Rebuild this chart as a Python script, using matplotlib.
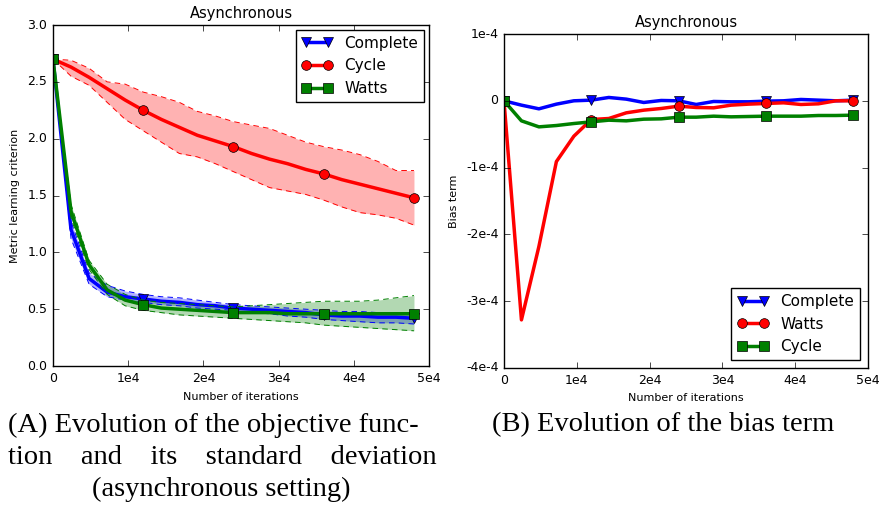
import numpy as np
import matplotlib
matplotlib.use("Agg")
import matplotlib.pyplot as plt

plt.style.use("classic")

# iterations, one sample every 2400
iters = [0, 2400, 4800, 7200, 9600, 12000, 14400, 16800, 19200, 21600, 24000,
         26400, 28800, 31200, 33600, 36000, 38400, 40800, 43200, 45600, 48000]

# (A) objective: mean and std band
complete_mean = [2.70, 1.20, 0.77, 0.65, 0.61, 0.59, 0.57, 0.56, 0.54, 0.53, 0.51,
                 0.50, 0.49, 0.48, 0.47, 0.45, 0.44, 0.44, 0.43, 0.43, 0.42]
complete_low = [2.70, 1.12, 0.72, 0.61, 0.58, 0.56, 0.54, 0.53, 0.51, 0.50, 0.49,
                0.47, 0.46, 0.44, 0.43, 0.41, 0.40, 0.39, 0.38, 0.38, 0.37]
complete_up = [2.70, 1.27, 0.82, 0.71, 0.66, 0.63, 0.61, 0.60, 0.58, 0.56, 0.54,
               0.53, 0.52, 0.51, 0.50, 0.49, 0.48, 0.48, 0.47, 0.47, 0.46]

cycle_mean = [2.70, 2.63, 2.54, 2.44, 2.34, 2.25, 2.17, 2.10, 2.03, 1.98, 1.93,
              1.87, 1.82, 1.78, 1.73, 1.69, 1.64, 1.60, 1.56, 1.52, 1.48]
cycle_low = [2.70, 2.55, 2.47, 2.32, 2.17, 2.07, 1.97, 1.87, 1.84, 1.78, 1.71,
             1.64, 1.57, 1.54, 1.51, 1.46, 1.40, 1.35, 1.33, 1.30, 1.24]
cycle_up = [2.70, 2.69, 2.62, 2.50, 2.48, 2.41, 2.37, 2.32, 2.24, 2.20, 2.15,
            2.12, 2.09, 2.03, 1.97, 1.93, 1.90, 1.86, 1.80, 1.72, 1.72]

watts_mean = [2.70, 1.36, 0.89, 0.67, 0.58, 0.54, 0.51, 0.50, 0.49, 0.48, 0.47,
              0.47, 0.47, 0.46, 0.46, 0.46, 0.46, 0.46, 0.46, 0.46, 0.46]
watts_low = [2.70, 1.30, 0.85, 0.63, 0.53, 0.49, 0.47, 0.45, 0.44, 0.43, 0.42,
             0.41, 0.40, 0.39, 0.38, 0.36, 0.35, 0.34, 0.33, 0.32, 0.31]
watts_up = [2.70, 1.42, 0.93, 0.72, 0.63, 0.58, 0.56, 0.55, 0.54, 0.53, 0.52,
            0.53, 0.54, 0.55, 0.56, 0.57, 0.57, 0.57, 0.58, 0.60, 0.62]

# (B) bias term, in units of 1e-4
bias_complete = [0.0, -0.065, -0.12, -0.05, 0.0, 0.01, 0.05, 0.025, -0.025, 0.005, 0.0,
                 -0.055, -0.01, -0.015, -0.015, -0.005, 0.0, 0.02, 0.01, 0.0, 0.01]
bias_watts = [0.0, -3.28, -2.18, -0.91, -0.53, -0.28, -0.265, -0.18, -0.14, -0.115, -0.08,
              -0.10, -0.105, -0.065, -0.05, -0.04, -0.03, -0.055, -0.045, 0.0, 0.0]
bias_cycle = [0.0, -0.30, -0.39, -0.37, -0.34, -0.315, -0.29, -0.30, -0.275, -0.27, -0.245,
              -0.245, -0.23, -0.24, -0.235, -0.23, -0.23, -0.23, -0.22, -0.22, -0.215]

x_ticks = [0, 10000, 20000, 30000, 40000, 50000]
x_ticklabels = ["0", "1e4", "2e4", "3e4", "4e4", "5e4"]
b_ticks = [1e-4, 0, -1e-4, -2e-4, -3e-4, -4e-4]
b_ticklabels = ["1e-4", "0", "-1e-4", "-2e-4", "-3e-4", "-4e-4"]

x = np.array(iters)

fig = plt.figure(figsize=(8.8, 5.13), dpi=100, facecolor="white")

# ---- left panel
ax1 = fig.add_axes([0.0602, 0.2865, 0.4273, 0.6647])
for mean, low, up, c, m, lab in [
        (complete_mean, complete_low, complete_up, "b", "v", "Complete"),
        (cycle_mean, cycle_low, cycle_up, "r", "o", "Cycle"),
        (watts_mean, watts_low, watts_up, "g", "s", "Watts")]:
    ax1.fill_between(x, low, up, color=c, alpha=0.3, linewidth=0)
    ax1.plot(x, low, "--", color=c, lw=0.7, dashes=(4, 3))
    ax1.plot(x, up, "--", color=c, lw=0.7, dashes=(4, 3))
    ax1.plot(x, mean, "-", color=c, lw=2.5, marker=m, markersize=7,
             markevery=5, label=lab)
ax1.set_xlim(0, 50000)
ax1.set_ylim(0, 3)
ax1.set_yticks(np.arange(0, 3.01, 0.5))
ax1.set_xticks(x_ticks)
ax1.set_xticklabels(x_ticklabels)
ax1.tick_params(labelsize=9)
ax1.set_title("Asynchronous", fontsize=10.5)
ax1.set_xlabel("Number of iterations", fontsize=8)
ax1.set_ylabel("Metric learning criterion", fontsize=8)
ax1.legend(loc="upper right", fontsize=11, numpoints=2, borderaxespad=0.3)

# ---- right panel
ax2 = fig.add_axes([0.5727, 0.2827, 0.4136, 0.651])
ax2.plot(x, np.array(bias_complete) * 1e-4, "-", color="b", lw=2.5, marker="v",
         markersize=7, markevery=5, label="Complete")
ax2.plot(x, np.array(bias_watts) * 1e-4, "-", color="r", lw=2.5, marker="o",
         markersize=7, markevery=5, label="Watts")
ax2.plot(x, np.array(bias_cycle) * 1e-4, "-", color="g", lw=2.5, marker="s",
         markersize=7, markevery=5, label="Cycle")
ax2.set_xlim(0, 50000)
ax2.set_ylim(-4e-4, 1e-4)
ax2.set_yticks(b_ticks)
ax2.set_yticklabels(b_ticklabels)
ax2.set_xticks(x_ticks)
ax2.set_xticklabels(x_ticklabels)
ax2.tick_params(labelsize=9)
ax2.set_title("Asynchronous", fontsize=10.5)
ax2.set_xlabel("Number of iterations", fontsize=8)
ax2.set_ylabel("Bias term", fontsize=8)
ax2.legend(loc="lower right", fontsize=11, numpoints=2, borderaxespad=0.5)

# ---- captions
cap = dict(family="Liberation Serif", fontsize=20.5, va="center")
fig.text(8 / 880, 1 - 425 / 513, "(A) Evolution of the objective func-", ha="left", **cap)
fig.text(8 / 880, 1 - 457 / 513, "tion    and    its    standard    deviation", ha="left", **cap)
fig.text(221 / 880, 1 - 489 / 513, "(asynchronous setting)", ha="center", **cap)
fig.text(492 / 880, 1 - 425 / 513, "(B) Evolution of the bias term", ha="left", **cap)

fig.savefig("out.png", dpi=100, facecolor="white")
